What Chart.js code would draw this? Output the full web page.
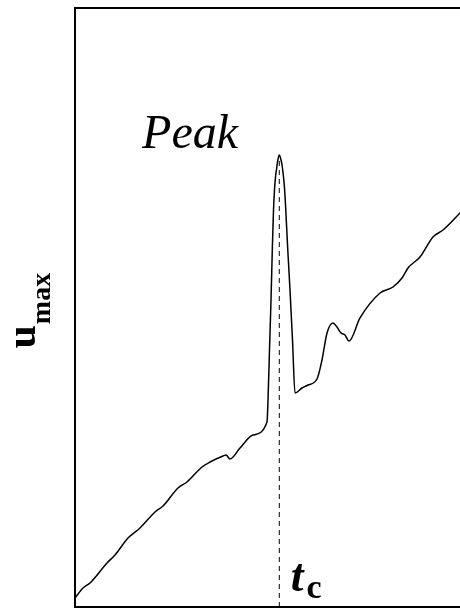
<!DOCTYPE html>
<html>
<head>
<meta charset="utf-8">
<script src="https://cdn.jsdelivr.net/npm/chart.js@4/dist/chart.umd.min.js"></script>
<style>
  html, body { margin: 0; padding: 0; background: #fff; overflow: hidden; }
  #wrap { width: 470px; height: 608px; }
</style>
</head>
<body>
<div id="wrap"><canvas id="c" width="470" height="608"></canvas></div>
<script>
// time axis (arbitrary units, 0..100)
const time = [0, 2.05, 3.85, 8.21, 10.26, 13.59, 16.67, 20.51, 22.56, 26.41, 28.72, 32.56, 34.62,
  37.95, 38.72, 39.74, 42.31, 45.64, 49.23, 49.49, 49.87, 50.26, 50.59, 50.90, 51.15, 51.41, 51.72,
  52.00, 52.38, 52.77, 53.08, 53.41, 53.72, 54.05, 54.49, 55.13, 55.77, 56.41, 58.21, 59.74, 62.05,
  63.33, 64.62, 66.15, 67.18, 68.21, 69.23, 70.26, 73.08, 78.21, 81.54, 83.85, 85.38, 88.46, 91.79,
  94.36, 98.72, 100];
// maximum velocity u_max (arbitrary units, 0..100)
const umax = [1.50, 3.17, 4.01, 7.35, 8.68, 11.52, 13.19, 15.86, 16.86, 19.87, 20.87, 23.37, 24.21,
  25.21, 25.38, 24.71, 26.54, 28.71, 30.88, 34.56, 42.90, 51.25, 59.60, 66.28, 69.62, 71.79, 73.29,
  74.62, 75.46, 74.79, 73.79, 72.12, 69.95, 66.28, 60.43, 52.92, 44.57, 35.73, 36.56, 37.06, 38.06,
  41.24, 45.74, 47.41, 46.74, 45.74, 45.41, 44.41, 48.25, 52.42, 53.42, 54.92, 56.59, 58.43, 61.77,
  62.94, 65.78, 66.61];
// critical time t_c and the peak value
const tc = 52.38;
const peakValue = 75.46;
const xRange = [0, 100];
const yRange = [0, 100];
// text annotations in data coordinates
const peakLabel = { text: 'Peak', x: 17.2, y: 76.6 };
const tcLabel = { text: 't', sub: 'c', x: 55.3, y: 2.6 };
const yTitle = { main: 'u', sub: 'max' };

const curve = time.map((t, i) => ({ x: t, y: umax[i] }));
const tcLine = [{ x: tc, y: yRange[0] }, { x: tc, y: peakValue }];

const SERIF = '"Liberation Serif", "Times New Roman", serif';

const decor = {
  id: 'decor',
  afterDraw(chart) {
    const { ctx, chartArea: a, scales } = chart;
    const xs = scales.x, ys = scales.y;
    ctx.save();
    // frame
    ctx.strokeStyle = '#000';
    ctx.lineWidth = 2;
    ctx.strokeRect(a.left, a.top, a.right - a.left, a.bottom - a.top);
    ctx.fillStyle = '#000';
    ctx.textBaseline = 'alphabetic';
    ctx.textAlign = 'left';
    // Peak label
    ctx.font = 'italic 48px ' + SERIF;
    ctx.fillText(peakLabel.text, xs.getPixelForValue(peakLabel.x), ys.getPixelForValue(peakLabel.y));
    // t_c label
    const tx = xs.getPixelForValue(tcLabel.x), ty = ys.getPixelForValue(tcLabel.y);
    ctx.font = 'italic bold 46px ' + SERIF;
    ctx.fillText(tcLabel.text, tx, ty);
    const tw = ctx.measureText(tcLabel.text).width;
    ctx.font = 'bold 34px ' + SERIF;
    ctx.fillText(tcLabel.sub, tx + tw + 3, ty + 7);
    // y-axis title u_max (rotated)
    ctx.translate(a.left - 40, (a.top + a.bottom) / 2 + 41);
    ctx.rotate(-Math.PI / 2);
    ctx.font = 'bold 42px ' + SERIF;
    ctx.fillText(yTitle.main, 0, 0);
    const uw = ctx.measureText(yTitle.main).width;
    ctx.font = 'bold 28px ' + SERIF;
    ctx.fillText(yTitle.sub, uw + 1, 15);
    ctx.restore();
  }
};

new Chart(document.getElementById('c'), {
  type: 'line',
  data: {
    datasets: [
      {
        data: curve,
        borderColor: '#000',
        borderWidth: 1.5,
        pointRadius: 0,
        cubicInterpolationMode: 'monotone',
        fill: false
      },
      {
        data: tcLine,
        borderColor: '#000',
        borderWidth: 1,
        borderDash: [5, 4],
        pointRadius: 0,
        fill: false
      }
    ]
  },
  options: {
    responsive: false,
    animation: false,
    events: [],
    layout: { padding: { left: 75, top: 8, right: 5, bottom: 1 } },
    plugins: { legend: { display: false }, tooltip: { enabled: false }, title: { display: false } },
    scales: {
      x: { type: 'linear', min: xRange[0], max: xRange[1], display: false },
      y: { type: 'linear', min: yRange[0], max: yRange[1], display: false }
    }
  },
  plugins: [decor]
});
</script>
</body>
</html>
